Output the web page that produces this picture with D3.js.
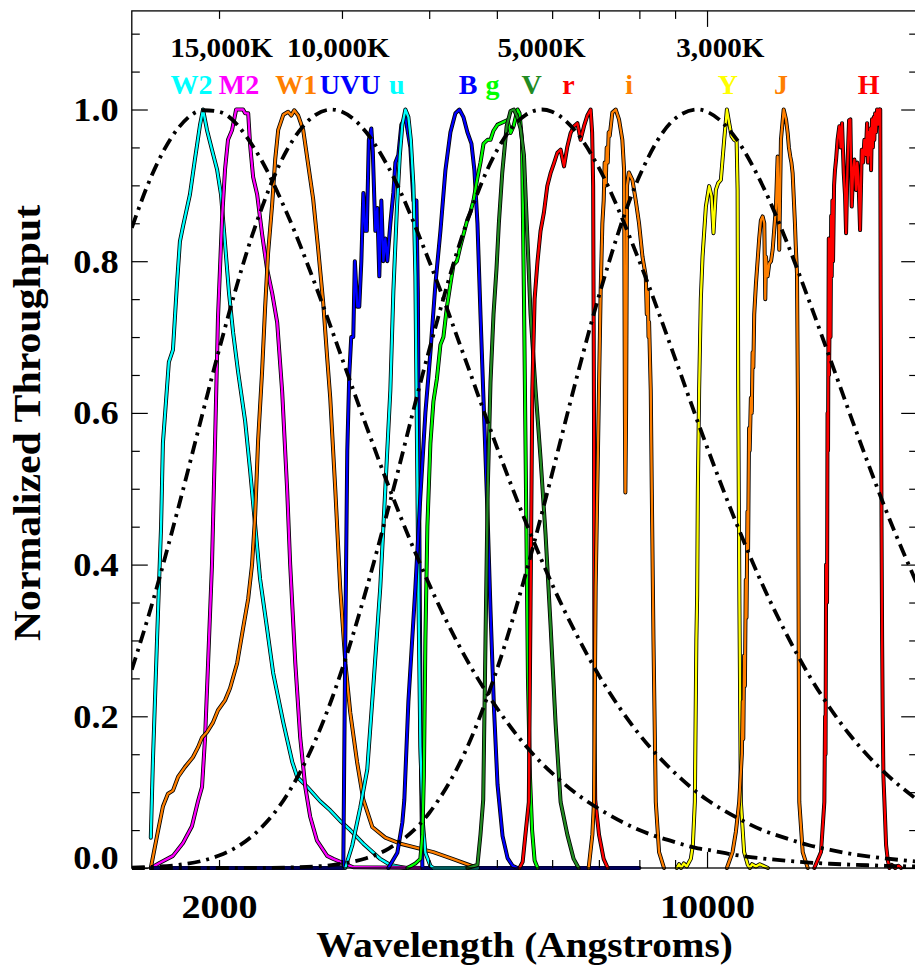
<!DOCTYPE html>
<html>
<head>
<meta charset="utf-8">
<title>Filter throughput and blackbody curves</title>
<script src="https://cdn.jsdelivr.net/npm/d3@7/dist/d3.min.js"></script>
<style>
  html, body { margin: 0; padding: 0; background: #fff; }
  svg text { font-family: "Liberation Serif", "Times New Roman", Times, serif; font-weight: bold; }
</style>
</head>
<body>
<svg id="chart" width="915" height="966"></svg>
<script>
// ---------------------------------------------------------------
// Data: wavelength (Angstrom) vs normalized throughput
// ---------------------------------------------------------------

// Blackbody curves (normalized to their peak), sampled on a shared grid
const bbWave = [1500,1600,1750,1900,2000,2250,2500,2750,2900,3000,3250,3500,4000,4500,5000,5500,5800,6000,6500,7000,8000,9000,9700,10000,11000,12000,13000,14000,15000,16000,17000,18000,20000];
const bb15000 = [0.844,0.912,0.976,0.999,0.997,0.948,0.864,0.768,0.710,0.672,0.583,0.503,0.374,0.279,0.211,0.161,0.138,0.125,0.098,0.078,0.050,0.034,0.026,0.024,0.017,0.0126,0.0095,0.0072,0.0056,0.0045,0.0036,0.0029,0.0019];
const bb10000 = [0.2615,0.345,0.476,0.604,0.683,0.844,0.946,0.993,1.0,0.997,0.970,0.923,0.800,0.672,0.555,0.456,0.405,0.374,0.308,0.254,0.176,0.125,0.099,0.090,0.067,0.050,0.039,0.030,0.024,0.019,0.0154,0.0126,0.0086];
const bb5000  = [0.0006,0.0014,0.0041,0.0099,0.0164,0.045,0.0956,0.169,0.2225,0.2615,0.367,0.476,0.683,0.844,0.946,0.993,1.0,0.997,0.970,0.923,0.800,0.672,0.588,0.555,0.456,0.374,0.308,0.254,0.211,0.176,0.148,0.125,0.090];
const bb3000  = [0,0,0,0,0,0.0001,0.0006,0.002,0.0038,0.0056,0.0129,0.0255,0.0725,0.1525,0.2615,0.388,0.4675,0.520,0.645,0.754,0.912,0.988,1.0,0.997,0.962,0.9005,0.826,0.748,0.672,0.600,0.534,0.474,0.374];
const tempLabels = ["15,000K", "10,000K", "5,000K", "3,000K"];
const tempLabelWave = [2017, 2964, 5794, 10449];

// Filter throughput curves: [wavelength, throughput]
const w2 = [[1597,0.04],[1608,0.14],[1630,0.30],[1652,0.45],[1662,0.56],[1679,0.615],[1695,0.667],[1718,0.683],[1741,0.77],[1758,0.826],[1776,0.846],[1817,0.888],[1847,0.934],[1878,0.979],[1897,1.0],[1922,0.973],[1954,0.947],[1987,0.921],[2013,0.888],[2040,0.823],[2067,0.758],[2095,0.706],[2130,0.654],[2180,0.589],[2216,0.524],[2253,0.452],[2290,0.381],[2343,0.316],[2391,0.257],[2472,0.192],[2546,0.14],[2588,0.12],[2675,0.107],[2792,0.088],[2886,0.076],[2983,0.062],[3083,0.05],[3219,0.032],[3404,0.012],[3519,0.004],[3700,0]];
const m2 = [[1597,0],[1646,0.007],[1718,0.016],[1776,0.033],[1829,0.055],[1866,0.088],[1891,0.107],[1910,0.172],[1929,0.27],[1954,0.40],[1974,0.563],[1993,0.725],[2020,0.856],[2040,0.921],[2060,0.96],[2088,0.973],[2116,1.0],[2165,1.0],[2180,0.995],[2202,0.995],[2216,0.953],[2238,0.911],[2268,0.888],[2305,0.836],[2343,0.79],[2383,0.758],[2423,0.719],[2463,0.628],[2504,0.498],[2529,0.40],[2572,0.27],[2614,0.172],[2658,0.107],[2701,0.068],[2763,0.036],[2857,0.016],[2915,0.012],[3114,0.001],[3950,0]];
const w1 = [[1597,0],[1630,0.042],[1662,0.081],[1690,0.098],[1718,0.102],[1747,0.12],[1787,0.133],[1835,0.146],[1866,0.159],[1891,0.172],[1922,0.179],[1961,0.192],[1993,0.208],[2040,0.221],[2074,0.237],[2123,0.27],[2165,0.316],[2202,0.355],[2230,0.40],[2253,0.465],[2275,0.563],[2305,0.654],[2328,0.738],[2351,0.81],[2383,0.875],[2407,0.934],[2431,0.973],[2472,0.993],[2512,0.997],[2538,0.992],[2563,0.999],[2597,0.992],[2640,0.973],[2684,0.927],[2728,0.882],[2773,0.817],[2820,0.745],[2857,0.673],[2886,0.62],[2935,0.498],[2983,0.368],[3034,0.27],[3083,0.205],[3153,0.14],[3219,0.09],[3316,0.054],[3461,0.04],[3637,0.032],[4055,0.021],[4319,0.012],[4690,0]];
const uvu = [[1600,0],[3013,0],[3033,0.3],[3053,0.55],[3073,0.65],[3093,0.70],[3114,0.70],[3130,0.80],[3156,0.74],[3176,0.74],[3198,0.80],[3219,0.89],[3240,0.84],[3256,0.84],[3278,0.96],[3305,0.975],[3321,0.945],[3349,0.84],[3371,0.87],[3393,0.78],[3416,0.88],[3439,0.80],[3461,0.83],[3484,0.80],[3519,0.85],[3554,0.89],[3578,0.93],[3613,0.94],[3649,0.98],[3698,0.99],[3759,0.95],[3797,0.88],[3835,0.88],[3853,0.76],[3872,0.45],[3891,0.15],[3911,0],[8000,0]];
const uSdss = [[3033,0],[3104,0.03],[3187,0.08],[3261,0.13],[3327,0.24],[3404,0.37],[3461,0.50],[3519,0.63],[3554,0.76],[3596,0.87],[3631,0.94],[3661,0.98],[3698,1.0],[3735,0.99],[3765,0.96],[3797,0.90],[3822,0.78],[3843,0.55],[3864,0.33],[3885,0.16],[3917,0.06],[3950,0.02],[4016,0.003],[4056,0],[4700,0]];
const bJ = [[3496,0],[3601,0.02],[3661,0.06],[3685,0.09],[3735,0.22],[3822,0.37],[3885,0.49],[3950,0.60],[4016,0.68],[4083,0.77],[4151,0.84],[4220,0.92],[4290,0.97],[4361,0.995],[4419,1.0],[4478,0.99],[4537,0.97],[4598,0.955],[4643,0.92],[4690,0.85],[4737,0.73],[4792,0.60],[4847,0.47],[4896,0.34],[4953,0.21],[5011,0.11],[5095,0.042],[5180,0.013],[5266,0.003],[5353,0]];
const gSdss = [[3722,0],[3822,0.006],[3885,0.012],[3911,0.044],[3930,0.12],[3950,0.30],[3976,0.45],[4016,0.56],[4056,0.615],[4103,0.645],[4151,0.69],[4192,0.70],[4241,0.74],[4290,0.77],[4333,0.795],[4383,0.80],[4434,0.82],[4478,0.835],[4537,0.855],[4583,0.865],[4629,0.88],[4690,0.91],[4737,0.93],[4785,0.955],[4848,0.96],[4896,0.96],[4945,0.972],[5011,0.98],[5095,0.983],[5180,0.986],[5231,0.969],[5283,0.978],[5353,1.0],[5388,0.995],[5432,0.96],[5468,0.75],[5504,0.5],[5540,0.25],[5577,0.12],[5616,0.05],[5663,0.01],[5719,0]];
const vJ = [[4537,0],[4690,0.004],[4737,0.044],[4780,0.09],[4816,0.30],[4852,0.50],[4896,0.64],[4945,0.73],[4994,0.79],[5033,0.85],[5090,0.917],[5164,0.978],[5231,0.998],[5289,1.0],[5349,0.99],[5406,0.975],[5467,0.94],[5530,0.83],[5588,0.73],[5681,0.63],[5775,0.54],[5871,0.44],[5969,0.32],[6069,0.19],[6170,0.087],[6308,0.044],[6441,0.012],[6548,0]];
const rSdss = [[5388,0],[5444,0.008],[5494,0.044],[5556,0.087],[5588,0.35],[5620,0.63],[5663,0.75],[5718,0.80],[5775,0.84],[5839,0.864],[5905,0.899],[5969,0.916],[6036,0.929],[6104,0.943],[6170,0.947],[6240,0.925],[6308,0.951],[6377,0.969],[6449,0.978],[6521,0.982],[6591,0.96],[6665,0.978],[6738,0.992],[6812,1.0],[6846,0.97],[6869,0.9],[6888,0.6],[6899,0.2],[6915,0.09],[7003,0.044],[7111,0.012],[7207,0]];
const iSdss = [[6768,0],[6851,0.044],[6888,0.087],[6926,0.37],[7002,0.63],[7041,0.76],[7081,0.85],[7112,0.88],[7135,0.93],[7159,0.90],[7183,0.95],[7207,0.93],[7230,0.97],[7254,0.965],[7318,0.996],[7400,1.0],[7480,0.987],[7563,0.96],[7607,0.92],[7627,0.6],[7639,0.495],[7657,0.6],[7682,0.9],[7728,0.917],[7819,0.907],[7905,0.88],[7991,0.85],[8082,0.806],[8171,0.78],[8198,0.73],[8225,0.76],[8245,0.70],[8260,0.72],[8306,0.63],[8334,0.5],[8381,0.3],[8445,0.087],[8537,0.021],[8677,0]];
const yBand = [[9052,0],[9120,0.005],[9180,0],[9264,0.006],[9350,0.002],[9479,0.012],[9543,0.03],[9606,0.087],[9654,0.3],[9680,0.36],[9702,0.5],[9743,0.63],[9797,0.75],[9853,0.806],[9962,0.872],[10070,0.899],[10149,0.886],[10215,0.837],[10296,0.894],[10374,0.903],[10466,0.907],[10582,0.96],[10677,1.0],[10758,0.982],[10843,0.965],[10937,0.96],[11025,0.958],[11061,0.894],[11083,0.63],[11127,0.35],[11181,0.087],[11301,0.021],[11439,0.004],[11520,0],[11600,0.005],[11750,0.002],[11900,0.005],[12225,0]];
const jBand = [[10677,0],[10878,0.021],[10999,0.048],[11119,0.087],[11217,0.15],[11250,0.22],[11270,0.17],[11301,0.28],[11330,0.24],[11364,0.38],[11390,0.33],[11427,0.47],[11450,0.42],[11487,0.58],[11510,0.55],[11556,0.62],[11590,0.60],[11622,0.68],[11650,0.66],[11684,0.73],[11750,0.77],[11878,0.83],[11944,0.854],[12012,0.859],[12078,0.85],[12118,0.75],[12145,0.806],[12210,0.78],[12278,0.797],[12350,0.80],[12416,0.815],[12553,0.872],[12622,0.938],[12689,0.815],[12760,0.96],[12876,1.0],[12975,0.987],[13047,0.969],[13100,0.95],[13159,0.938],[13210,0.93],[13262,0.916],[13363,0.85],[13400,0.82],[13430,0.80],[13454,0.784],[13499,0.6],[13530,0.3],[13556,0.087],[13710,0.021],[13939,0]];
const hBand = [[14246,0],[14563,0.021],[14724,0.087],[14760,0.2],[14783,0.15],[14810,0.4],[14856,0.35],[14880,0.6],[14905,0.55],[14941,0.83],[14954,0.65],[15003,0.78],[15028,0.70],[15060,0.86],[15087,0.78],[15120,0.88],[15153,0.80],[15204,0.90],[15250,0.92],[15305,0.934],[15380,0.96],[15471,0.978],[15540,0.95],[15609,0.982],[15698,0.916],[15766,0.886],[15818,0.837],[15870,0.90],[15907,0.938],[15975,0.986],[16043,0.987],[16080,0.93],[16117,0.872],[16190,0.92],[16258,0.934],[16350,0.894],[16410,0.93],[16474,0.912],[16566,0.841],[16658,0.947],[16730,0.93],[16802,0.96],[16880,0.94],[16953,0.982],[17000,0.93],[17040,0.97],[17082,0.94],[17130,0.975],[17178,0.92],[17230,0.987],[17280,0.95],[17329,0.99],[17363,0.96],[17410,0.995],[17458,0.97],[17520,1.0],[17590,0.98],[17640,1.0],[17670,0.985],[17705,1.0],[17730,0.75],[17755,0.6],[17780,0.45],[17815,0.3],[17850,0.2],[17892,0.12],[17952,0.087],[18050,0.03],[18154,0.01],[18250,0],[18400,0.004],[18600,0],[18800,0.003],[18968,0]];

// Filter names, in drawing order, with the wavelength each name sits over
const filterNames = ["W2", "M2", "W1", "UVU", "u", "B", "g", "V", "r", "i", "Y", "J", "H"];
const filterCurves = [w2, m2, w1, uvu, uSdss, bJ, gSdss, vJ, rSdss, iSdss, yBand, jBand, hBand];
const filterLabelWave = [1826, 2137, 2580, 3083, 3596, 4546, 4929, 5607, 6334, 7737, 10712, 12760, 17039];

// Axis ticks
const xLabelTicks = [2000, 10000];
const xMajorTicks = [10000];
const xMinorTicks = [2000, 3000, 4000, 5000, 6000, 7000, 8000, 9000, 20000];
const yLabelTicks = [0, 0.2, 0.4, 0.6, 0.8, 1.0];
const yMinorTicks = [0.05, 0.1, 0.15, 0.25, 0.3, 0.35, 0.45, 0.5, 0.55, 0.65, 0.7, 0.75, 0.85, 0.9, 0.95, 1.05, 1.1];

// ---------------------------------------------------------------
// Styles
// ---------------------------------------------------------------
const filterColor = {
  W2: "#00ffff", M2: "#ff00ff", W1: "#ff7f00", UVU: "#0000ff", u: "#00ffff",
  B: "#0000ff", g: "#00ff00", V: "#228b22", r: "#ff0000", i: "#ff7f00",
  Y: "#ffff00", J: "#ff7f00", H: "#ff0000"
};

// Widen glyphs horizontally (the label face is broader than Times)
function stretch(sel, sx) {
  sel.each(function () {
    const t = d3.select(this);
    const x0 = +(t.attr("x") || 0);
    t.attr("x", x0 / sx).attr("transform", `scale(${sx},1)`);
  });
  return sel;
}

// ---------------------------------------------------------------
// Layout and scales
// ---------------------------------------------------------------
const plot = { left: 131.8, right: 917.2, top: 10.9, bottom: 868 };
const x = d3.scaleLog().domain([1500, 20000]).range([plot.left, plot.right]);
const y = d3.scaleLinear().domain([0, 1.13]).range([plot.bottom, plot.top]);

const svg = d3.select("#chart");

svg.append("defs").append("clipPath").attr("id", "plotClip")
  .append("rect")
  .attr("x", plot.left).attr("y", plot.top - 3)
  .attr("width", plot.right - plot.left).attr("height", plot.bottom - plot.top + 7);

const curves = svg.append("g").attr("clip-path", "url(#plotClip)");

// Filter curves: dark outline under a coloured core
const filterLine = d3.line().x(d => x(d[0])).y(d => y(d[1]));
filterCurves.forEach((data, k) => {
  const name = filterNames[k];
  curves.append("path").datum(data)
    .attr("d", filterLine).attr("fill", "none")
    .attr("stroke", "#000").attr("stroke-width", 4)
    .attr("stroke-linejoin", "round").attr("stroke-linecap", "round");
  curves.append("path").datum(data)
    .attr("d", filterLine).attr("fill", "none")
    .attr("stroke", filterColor[name]).attr("stroke-width", 2.3)
    .attr("stroke-linejoin", "round").attr("stroke-linecap", "round");
});

// Blackbody curves, dash-dot
const bbLine = d3.line().x(d => x(d[0])).y(d => y(d[1])).curve(d3.curveMonotoneX);
[bb15000, bb10000, bb5000, bb3000].forEach(vals => {
  curves.append("path")
    .datum(bbWave.map((w, i) => [w, vals[i]]))
    .attr("d", bbLine).attr("fill", "none")
    .attr("stroke", "#000").attr("stroke-width", 3.8)
    .attr("stroke-dasharray", "13,6,3,6");
});

// ---------------------------------------------------------------
// Axes (inward ticks on all four sides)
// ---------------------------------------------------------------
function ticks(axis, values, size, transform) {
  const g = svg.append("g").attr("transform", transform)
    .call(axis.tickValues(values).tickSize(size).tickSizeOuter(0).tickFormat(""));
  g.select(".domain").remove();
  g.selectAll(".tick line").attr("stroke", "#000").attr("stroke-width", 1.2);
}
ticks(d3.axisBottom(x), xMinorTicks, -8, `translate(0,${plot.bottom})`);
ticks(d3.axisBottom(x), xMajorTicks, -16, `translate(0,${plot.bottom})`);
ticks(d3.axisTop(x), xMinorTicks, -8, `translate(0,${plot.top})`);
ticks(d3.axisTop(x), xMajorTicks, -16, `translate(0,${plot.top})`);
ticks(d3.axisLeft(y), yMinorTicks, -8, `translate(${plot.left},0)`);
ticks(d3.axisLeft(y), yLabelTicks, -16, `translate(${plot.left},0)`);
ticks(d3.axisRight(y), yMinorTicks, -8, `translate(${plot.right},0)`);
ticks(d3.axisRight(y), yLabelTicks, -16, `translate(${plot.right},0)`);

svg.append("rect")
  .attr("x", plot.left).attr("y", plot.top)
  .attr("width", plot.right - plot.left).attr("height", plot.bottom - plot.top)
  .attr("fill", "none").attr("stroke", "#000").attr("stroke-width", 1.3);

// Tick labels
const xLab = svg.append("g").attr("transform", `translate(0,${plot.bottom})`)
  .call(d3.axisBottom(x).tickValues(xLabelTicks).tickSize(0).tickPadding(26).tickFormat(d3.format("d")));
xLab.select(".domain").remove();
stretch(xLab.selectAll("text").attr("font-size", 34).attr("fill", "#000"), 1.12);

const yLab = svg.append("g").attr("transform", `translate(${plot.left},0)`)
  .call(d3.axisLeft(y).tickValues(yLabelTicks).tickSize(0).tickPadding(13).tickFormat(d3.format(".1f")));
yLab.select(".domain").remove();
yLab.selectAll("text").attr("font-size", 34).attr("fill", "#000")
  .filter(d => d === 0).attr("dy", "0.0em");   // bottom label sits on the axis line
stretch(yLab.selectAll("text"), 1.07);

// Axis titles
stretch(svg.append("text")
  .attr("x", (plot.left + plot.right) / 2).attr("y", 957)
  .attr("text-anchor", "middle").attr("font-size", 36).attr("fill", "#000")
  .text("Wavelength (Angstroms)"), 1.09);

svg.append("text")
  .attr("transform", "translate(40,423) rotate(-90) scale(1.1,1)")
  .attr("text-anchor", "middle").attr("font-size", 38).attr("fill", "#000")
  .text("Normalized Throughput");

// Blackbody temperature labels
stretch(svg.append("g").selectAll("text").data(tempLabels).join("text")
  .attr("x", (d, i) => x(tempLabelWave[i])).attr("y", 57)
  .attr("text-anchor", "middle").attr("font-size", 27.5).attr("fill", "#000")
  .text(d => d), 1.06);

// Filter labels
stretch(svg.append("g").selectAll("text").data(filterNames).join("text")
  .attr("x", (d, i) => x(filterLabelWave[i])).attr("y", 94)
  .attr("text-anchor", "middle").attr("font-size", 27.5)
  .attr("fill", d => filterColor[d])
  .text(d => d), 1.02);
</script>
</body>
</html>
